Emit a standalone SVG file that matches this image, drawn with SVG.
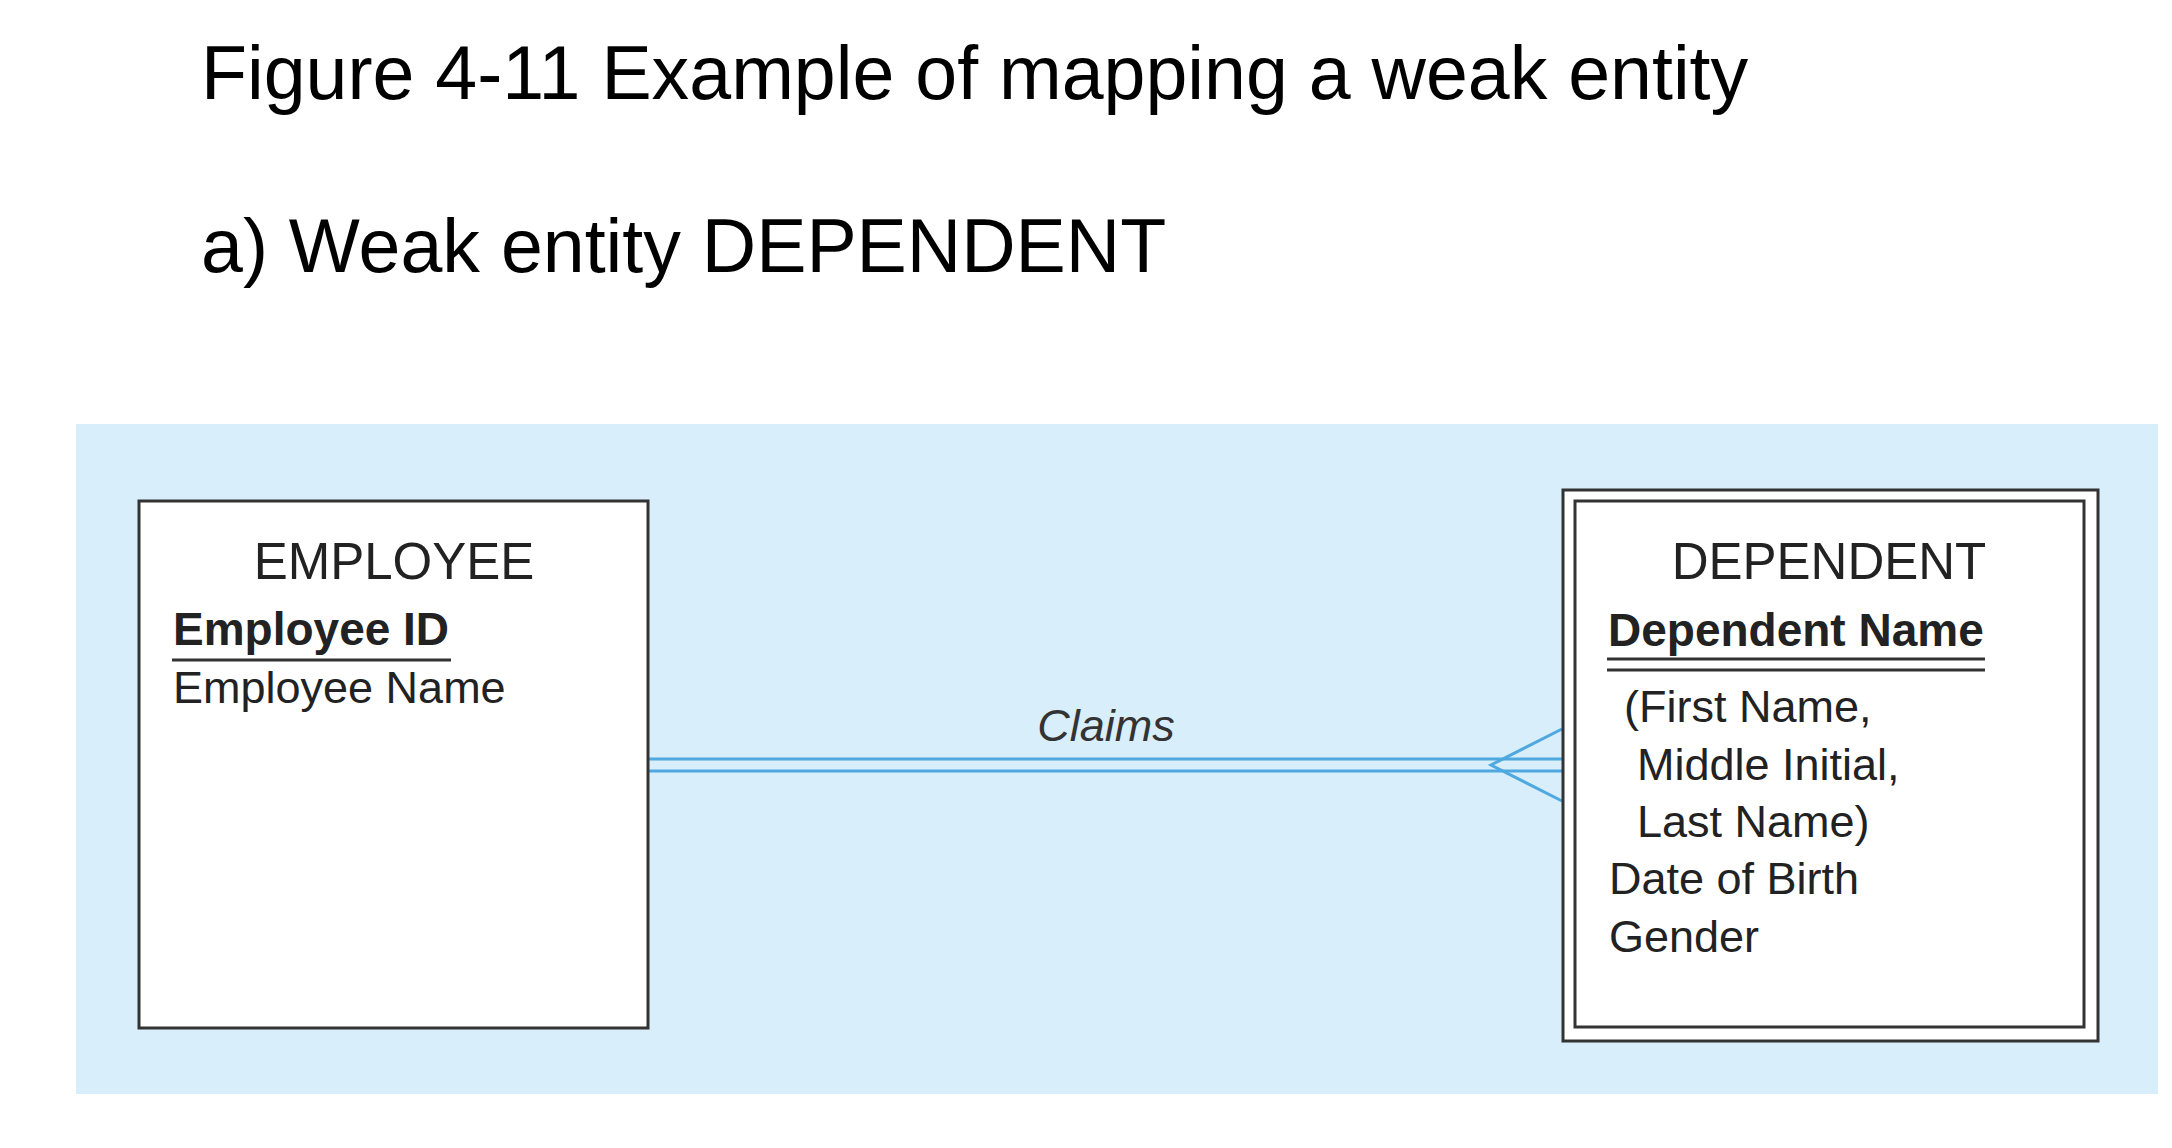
<svg xmlns="http://www.w3.org/2000/svg" width="2172" height="1148" viewBox="0 0 2172 1148">
<style>
.title{font-family:"Liberation Sans",Arial,sans-serif;font-size:75.3px;fill:#000}
.ent{font-family:"Liberation Sans",Arial,sans-serif;font-size:51px;fill:#222}
.attr{font-family:"Liberation Sans",Arial,sans-serif;font-size:45px;fill:#222}
.key{font-family:"Liberation Sans",Arial,sans-serif;font-size:46px;font-weight:bold;fill:#222}
.lbl{font-family:"Liberation Sans",Arial,sans-serif;font-size:45px;font-style:italic;fill:#333}
.box{fill:#fff;stroke:#333;stroke-width:3}
.ul{stroke:#333;stroke-width:3}
.conn{stroke:#4fa8e0;stroke-width:3;fill:none}
</style>
<rect width="2172" height="1148" fill="#fff"/>
<text class="title" x="201" y="99">Figure 4-11 Example of mapping a weak entity</text>
<text class="title" x="201" y="272">a) Weak entity DEPENDENT</text>
<rect x="76" y="424" width="2082" height="670" fill="#d8eefb"/>
<g id="connectors">
<line class="conn" x1="648" y1="759" x2="1562" y2="759"/>
<line class="conn" x1="648" y1="771" x2="1562" y2="771"/>
<polyline class="conn" points="1562,729 1491,765 1562,801"/>
<text class="lbl" x="1106" y="741" text-anchor="middle">Claims</text>
</g>
<g id="employee">
<rect class="box" x="139" y="501" width="509" height="527"/>
<text class="ent" x="394" y="579" text-anchor="middle">EMPLOYEE</text>
<text class="key" x="173" y="645">Employee ID</text>
<line class="ul" x1="172" y1="660" x2="451" y2="660"/>
<text class="attr" x="173" y="703">Employee Name</text>
</g>
<g id="dependent">
<rect class="box" x="1563" y="490" width="535" height="551"/>
<rect class="box" x="1575" y="501" width="509" height="526"/>
<text class="ent" x="1829" y="579" text-anchor="middle">DEPENDENT</text>
<text class="key" x="1608" y="646">Dependent Name</text>
<line class="ul" x1="1607" y1="659" x2="1985" y2="659"/>
<line class="ul" x1="1607" y1="670" x2="1985" y2="670"/>
<text class="attr" x="1624" y="722">(First Name,</text>
<text class="attr" x="1637" y="780">Middle Initial,</text>
<text class="attr" x="1637" y="837">Last Name)</text>
<text class="attr" x="1609" y="894">Date of Birth</text>
<text class="attr" x="1609" y="952">Gender</text>
</g>
</svg>
